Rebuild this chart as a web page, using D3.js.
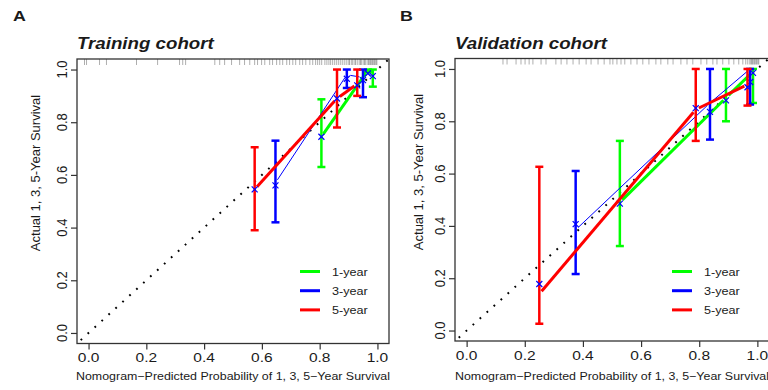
<!DOCTYPE html>
<html>
<head>
<meta charset="utf-8">
<title>Calibration curves</title>
<script src="https://cdn.jsdelivr.net/npm/d3@7"></script>
<style>
  body { margin: 0; background: #fff; }
  text { font-family: "Liberation Sans", Arial, sans-serif; fill: #1a1a1a; }
</style>
</head>
<body>
<svg width="768" height="390" id="mainsvg"></svg>
<script>
  const svg = d3.select('#mainsvg');
  const sx = 1.15; // the source picture is stretched a bit horizontally

  const tickValues = [0, 0.2, 0.4, 0.6, 0.8, 1.0];
  const seriesNames = ['1-year', '3-year', '5-year'];
  const seriesColors = ['#00ff00', '#0000ff', '#ff0000'];
  const seriesWidths = [3, 1, 3];

  // training cohort
  const trainPred1 = [0.806, 0.967, 0.984];
  const trainObs1 = [0.745, 0.997, 0.975];
  const trainLo1 = [0.63, 0.99, 0.935];
  const trainHi1 = [0.887, 1.0, 1.0];
  const trainCorr1 = [0.745, 0.985, 0.975];

  const trainPred3 = [0.647, 0.894, 0.95];
  const trainObs3 = [0.57, 0.98, 0.97];
  const trainLo3 = [0.42, 0.93, 0.895];
  const trainHi3 = [0.73, 1.0, 1.0];
  const trainCorr3 = [0.56, 0.965, 0.96];

  const trainPred5 = [0.575, 0.86, 0.93];
  const trainObs5 = [0.545, 0.89, 0.945];
  const trainLo5 = [0.39, 0.78, 0.9];
  const trainHi5 = [0.705, 1.0, 1.0];
  const trainCorr5 = [0.545, 0.89, 0.94];

  // validation cohort
  const validPred1 = [0.527, 0.892, 0.985];
  const validObs1 = [0.49, 0.89, 0.99];
  const validLo1 = [0.323, 0.8, 0.87];
  const validHi1 = [0.725, 1.0, 1.0];
  const validCorr1 = [0.485, 0.88, 0.985];

  const validPred3 = [0.375, 0.837, 0.975];
  const validObs3 = [0.385, 0.87, 1.0];
  const validLo3 = [0.216, 0.73, 0.864];
  const validHi3 = [0.61, 1.0, 1.0];
  const validCorr3 = [0.407, 0.836, 0.95];

  const validPred5 = [0.25, 0.788, 0.966];
  const validObs5 = [0.14, 0.845, 0.94];
  const validLo5 = [0.026, 0.725, 0.86];
  const validHi5 = [0.626, 1.0, 1.0];
  const validCorr5 = [0.178, 0.85, 0.93];

  // predicted risk distribution (rug along the top)
  const trainRug = [-0.014, -0.007, 0.038, 0.062, 0.166, 0.239, 0.315, 0.326, 0.336, 0.437, 0.454,
    0.471, 0.495, 0.523, 0.540, 0.558, 0.575, 0.585, 0.599, 0.610, 0.627, 0.637, 0.651, 0.662,
    0.672, 0.686, 0.696, 0.707, 0.717, 0.731, 0.741, 0.752, 0.766, 0.776, 0.786, 0.793, 0.800,
    0.807, 0.818, 0.825, 0.832, 0.838, 0.845, 0.852, 0.859, 0.866, 0.873, 0.880, 0.887, 0.894,
    0.901, 0.904, 0.911, 0.915, 0.922, 0.925, 0.932, 0.939, 0.942, 0.946, 0.953, 0.956, 0.960,
    0.967, 0.970, 0.974, 0.977, 0.981, 0.984, 0.988, 0.991, 0.995, 0.998];
  const validRug = [0.125, 0.139, 0.170, 0.187, 0.201, 0.215, 0.228, 0.256, 0.273, 0.307, 0.325,
    0.345, 0.366, 0.387, 0.411, 0.428, 0.452, 0.473, 0.493, 0.503, 0.517, 0.531, 0.544, 0.565,
    0.586, 0.606, 0.627, 0.651, 0.668, 0.692, 0.710, 0.737, 0.758, 0.778, 0.806, 0.826, 0.847,
    0.861, 0.881, 0.902, 0.919, 0.936, 0.950, 0.960, 0.967, 0.974, 0.978, 0.981, 0.984, 0.988,
    0.991, 0.995, 0.998, 1.002, 1.005];

  const panels = [
    {
      letter: 'A', title: 'Training cohort', rug: trainRug,
      x0: 77, x1: 389, y0: 343.5, y1: 59, letterX: 13, ylabX: 40, ylabY: 173, legX: 300,
      series: [
        { pred: trainPred1, obs: trainObs1, lo: trainLo1, hi: trainHi1, corr: trainCorr1 },
        { pred: trainPred3, obs: trainObs3, lo: trainLo3, hi: trainHi3, corr: trainCorr3 },
        { pred: trainPred5, obs: trainObs5, lo: trainLo5, hi: trainHi5, corr: trainCorr5 }
      ]
    },
    {
      letter: 'B', title: 'Validation cohort', rug: validRug,
      x0: 455, x1: 769, y0: 341, y1: 58.5, letterX: 400, ylabX: 423, ylabY: 172, legX: 672,
      series: [
        { pred: validPred1, obs: validObs1, lo: validLo1, hi: validHi1, corr: validCorr1 },
        { pred: validPred3, obs: validObs3, lo: validLo3, hi: validHi3, corr: validCorr3 },
        { pred: validPred5, obs: validObs5, lo: validLo5, hi: validHi5, corr: validCorr5 }
      ]
    }
  ];

  // text helper: horizontal stretch like the original
  function label(g, x, y, str, size, opts = {}) {
    const k = opts.sx || sx;
    const t = g.append('text')
      .attr('transform', `translate(${x},${y}) scale(${k},1)` + (opts.rotate ? ' rotate(-90)' : ''))
      .attr('font-size', size)
      .attr('text-anchor', opts.anchor || 'start')
      .text(str);
    if (opts.weight) t.attr('font-weight', opts.weight);
    if (opts.style) t.attr('font-style', opts.style);
    return t;
  }

  panels.forEach(p => {
    const g = svg.append('g');
    const xScale = d3.scaleLinear().domain([-0.04, 1.04]).range([p.x0, p.x1]);
    const yScale = d3.scaleLinear().domain([-0.04, 1.04]).range([p.y0, p.y1]);

    // letter and title
    label(g, p.letterX, 21, p.letter, 15.5, { weight: 'bold' });
    label(g, p.x0, 48.5, p.title, 17, { weight: 'bold', style: 'italic', sx: 1.1 });

    // rug
    g.append('g').selectAll('line').data(p.rug).join('line')
      .attr('x1', d => xScale(d)).attr('x2', d => xScale(d))
      .attr('y1', p.y1).attr('y2', p.y1 + 6)
      .attr('stroke', '#000').attr('stroke-opacity', 0.4).attr('stroke-width', 0.8);

    // diagonal reference
    g.append('line')
      .attr('x1', xScale(-0.04)).attr('y1', yScale(-0.04))
      .attr('x2', xScale(1.04)).attr('y2', yScale(1.04))
      .attr('stroke', '#000').attr('stroke-width', 2)
      .attr('stroke-dasharray', '1.8 7.6').attr('stroke-dashoffset', -5);

    // calibration series
    p.series.forEach((s, i) => {
      const col = seriesColors[i];
      const sg = g.append('g');
      const pts = s.pred.map((v, k) => [xScale(v), yScale(s.obs[k])]);
      // type = "b": segments with small gaps at the points
      const gap = 3.5;
      const segs = d3.pairs(pts).map(([a, b]) => {
        const dx = b[0] - a[0], dy = b[1] - a[1];
        const len = Math.hypot(dx, dy);
        const ux = dx / len, uy = dy / len;
        return [[a[0] + ux * gap, a[1] + uy * gap], [b[0] - ux * gap, b[1] - uy * gap]];
      });
      sg.selectAll('.seg').data(segs).join('line')
        .attr('class', 'seg')
        .attr('x1', d => d[0][0]).attr('y1', d => d[0][1])
        .attr('x2', d => d[1][0]).attr('y2', d => d[1][1])
        .attr('stroke', col).attr('stroke-width', seriesWidths[i]);

      // error bars
      const bars = s.pred.map((v, k) => ({ x: v, lo: s.lo[k], hi: s.hi[k] }));
      sg.selectAll('.bar').data(bars).join('line')
        .attr('class', 'bar')
        .attr('x1', d => xScale(d.x)).attr('x2', d => xScale(d.x))
        .attr('y1', d => yScale(d.lo)).attr('y2', d => yScale(d.hi))
        .attr('stroke', col).attr('stroke-width', 2.5);
      ['lo', 'hi'].forEach(key => {
        sg.selectAll('.cap-' + key).data(bars).join('line')
          .attr('class', 'cap-' + key)
          .attr('x1', d => xScale(d.x) - 4).attr('x2', d => xScale(d.x) + 4)
          .attr('y1', d => yScale(d[key])).attr('y2', d => yScale(d[key]))
          .attr('stroke', col).attr('stroke-width', 2.5);
      });

      // bias-corrected estimates
      const corr = s.pred.map((v, k) => [xScale(v), yScale(s.corr[k])]);
      sg.selectAll('.corr').data(corr).join('path')
        .attr('class', 'corr')
        .attr('d', d => `M${d[0] - 3},${d[1] - 3}L${d[0] + 3},${d[1] + 3}M${d[0] - 3},${d[1] + 3}L${d[0] + 3},${d[1] - 3}`)
        .attr('stroke', '#0000ff').attr('stroke-width', 1.2).attr('fill', 'none');
    });

    // box
    g.append('rect')
      .attr('x', p.x0).attr('y', p.y1)
      .attr('width', p.x1 - p.x0).attr('height', p.y0 - p.y1)
      .attr('fill', 'none').attr('stroke', '#333').attr('stroke-width', 1.3);

    // axes
    const xAxis = g.append('g').attr('transform', `translate(0,${p.y0})`)
      .call(d3.axisBottom(xScale).tickValues(tickValues).tickSize(6).tickSizeOuter(0).tickFormat(d3.format('.1f')));
    const yAxis = g.append('g').attr('transform', `translate(${p.x0},0)`)
      .call(d3.axisLeft(yScale).tickValues(tickValues).tickSize(6).tickSizeOuter(0).tickFormat(d3.format('.1f')));
    [xAxis, yAxis].forEach(a => {
      a.select('.domain').remove();
      a.selectAll('line').attr('stroke', '#333').attr('stroke-width', 1.2);
      a.selectAll('text').remove();
    });
    tickValues.forEach(v => {
      label(g, xScale(v), p.y0 + 18.5, d3.format('.1f')(v), 13.5, { anchor: 'middle' });
      label(g, p.x0 - 10, yScale(v), d3.format('.1f')(v), 13, { anchor: 'middle', rotate: true });
    });

    // axis titles
    label(g, (p.x0 + p.x1) / 2, 380, 'Nomogram\u2212Predicted Probability of 1, 3, 5\u2212Year Survival', 10.8, { anchor: 'middle' });
    label(g, p.ylabX, p.ylabY, 'Actual 1, 3, 5-Year Survival', 13, { anchor: 'middle', rotate: true, sx: 1 });

    // legend
    const leg = g.append('g');
    seriesNames.forEach((name, i) => {
      const ly = 271.5 + i * 19.2;
      leg.append('line')
        .attr('x1', p.legX).attr('x2', p.legX + 20)
        .attr('y1', ly).attr('y2', ly)
        .attr('stroke', seriesColors[i]).attr('stroke-width', 3);
      label(leg, p.legX + 32, ly + 4.5, name, 11);
    });
  });
</script>
</body>
</html>
